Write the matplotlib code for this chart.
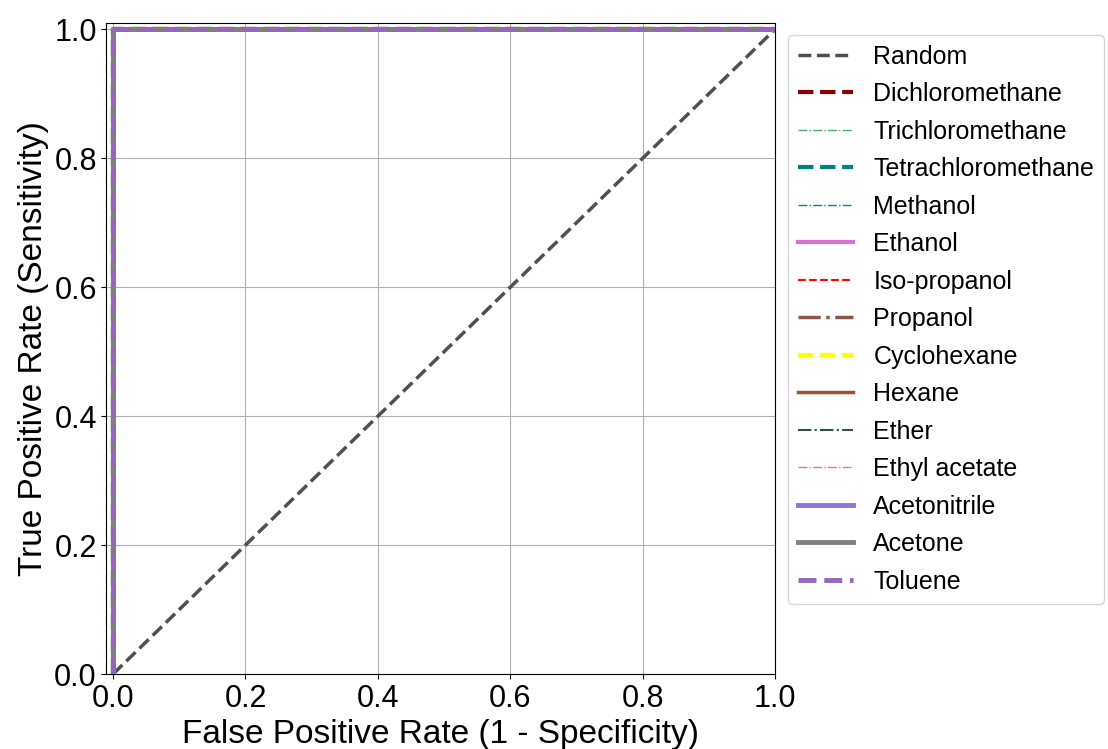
import matplotlib
matplotlib.use("Agg")
import matplotlib.pyplot as plt

plt.rcParams['font.family'] = ['Liberation Sans', 'DejaVu Sans']

solvents = ["Dichloromethane", "Trichloromethane", "Tetrachloromethane", "Methanol",
            "Ethanol", "Iso-propanol", "Propanol", "Cyclohexane", "Hexane", "Ether",
            "Ethyl acetate", "Acetonitrile", "Acetone", "Toluene"]
fpr = [0.0, 0.0, 1.0]
tpr = [0.0, 1.0, 1.0]
random_x = [0.0, 1.0]
random_y = [0.0, 1.0]

styles = {
    "Dichloromethane": dict(color="darkred", ls="--", lw=3),
    "Trichloromethane": dict(color="mediumseagreen", ls="-.", lw=1),
    "Tetrachloromethane": dict(color="teal", ls="--", lw=3),
    "Methanol": dict(color="darkcyan", ls="-.", lw=1),
    "Ethanol": dict(color="orchid", ls="-", lw=3),
    "Iso-propanol": dict(color="red", ls="--", lw=1.5),
    "Propanol": dict(color="#8c564b", ls="-.", lw=2.5),
    "Cyclohexane": dict(color="yellow", ls="--", lw=3),
    "Hexane": dict(color="sienna", ls="-", lw=2.5),
    "Ether": dict(color="darkslategray", ls="-.", lw=1.5),
    "Ethyl acetate": dict(color="orchid", ls="-.", lw=1),
    "Acetonitrile": dict(color="mediumpurple", ls="-", lw=3.5),
    "Acetone": dict(color="gray", ls="-", lw=3.5),
    "Toluene": dict(color="tab:purple", ls="--", lw=3.5),
}

fig = plt.figure(figsize=(11.08, 7.49), dpi=100)
ax = fig.add_axes([0.0961, 0.1001, 0.6033, 0.8692])
ax.plot(random_x, random_y, color="#505050", ls="--", lw=2.5, label="Random")
for s in solvents:
    st = styles[s]
    ax.plot(fpr, tpr, color=st["color"], linestyle=st["ls"], linewidth=st["lw"], label=s)

ax.set_xlim(-0.01, 1.0)
ax.set_ylim(0.0, 1.01)
ax.grid(True, color="#b0b0b0", lw=0.8)
ax.tick_params(labelsize=22)
ax.set_xlabel("False Positive Rate (1 - Specificity)", fontsize=24)
ax.set_ylabel("True Positive Rate (Sensitivity)", fontsize=24)
ax.legend(loc="upper left", bbox_to_anchor=(1.02, 0.982), fontsize=18, handlelength=2.2,
          labelspacing=0.54, borderaxespad=0)
fig.savefig("out.png", dpi=100)
